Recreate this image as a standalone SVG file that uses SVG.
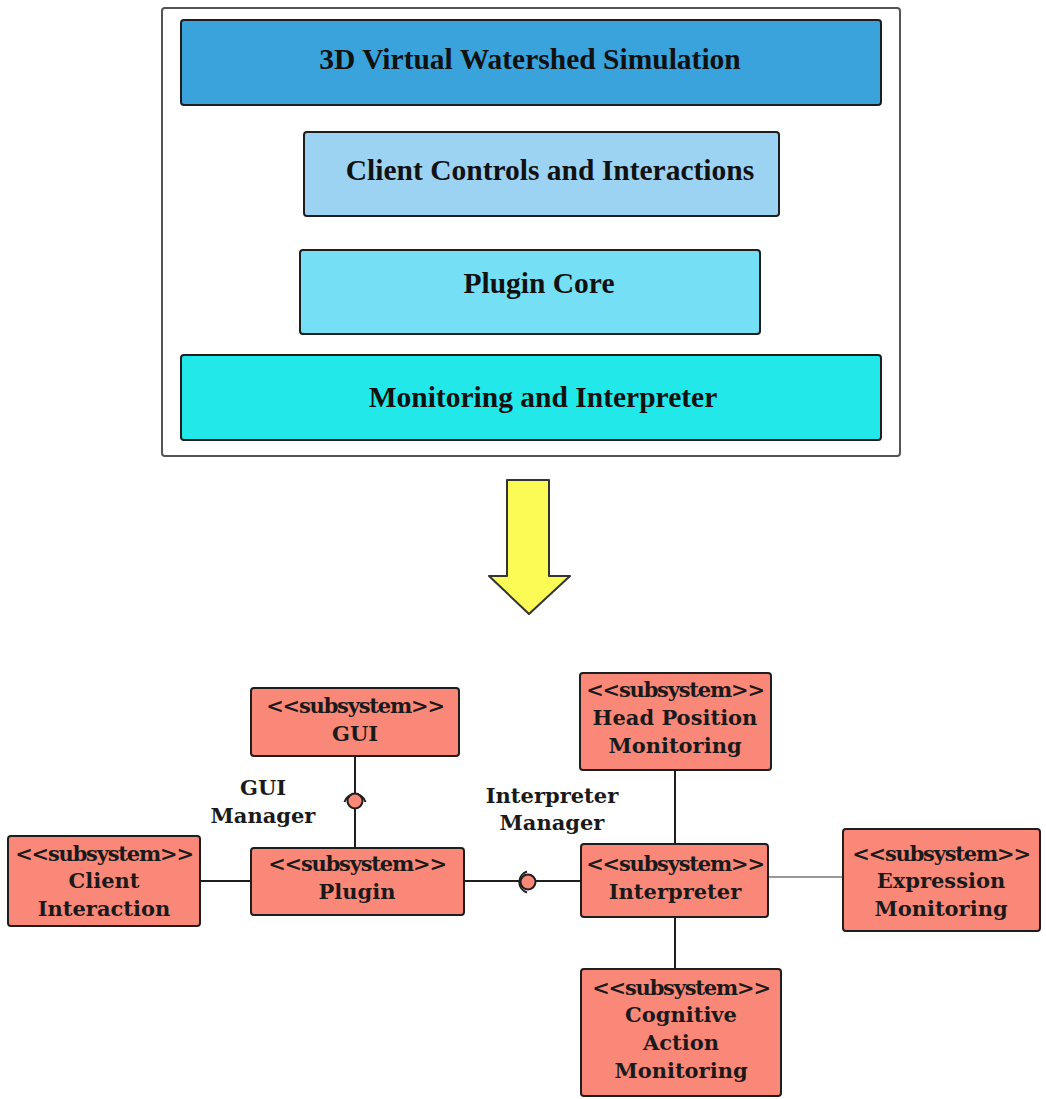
<svg xmlns="http://www.w3.org/2000/svg" width="1046" height="1099" viewBox="0 0 1046 1099">
  <style>
    .layer { stroke: #1e1e1e; stroke-width: 2; }
    .layer-text { font-family: "Liberation Serif", "Times New Roman", serif; font-weight: bold; font-size: 29.5px; fill: #111; text-anchor: middle; }
    .sub { fill: #fa8878; stroke: #1e1e1e; stroke-width: 2; }
    .sub-text { font-family: "DejaVu Serif", serif; font-weight: bold; font-size: 21px; fill: #1a1a1a; text-anchor: middle; }
    .stereo { letter-spacing: -1.2px; }
    .label { font-family: "DejaVu Serif", serif; font-weight: bold; font-size: 21px; fill: #1a1a1a; text-anchor: middle; }
    .wire { stroke: #1e1e1e; stroke-width: 2; fill: none; }
    .wire-thin { stroke: #777; stroke-width: 1.5; fill: none; }
    .ball { fill: #fa8878; stroke: #1e1e1e; stroke-width: 2; }
    .socket { fill: none; stroke: #1e1e1e; stroke-width: 2; }
  </style>

  <!-- layered architecture -->
  <g id="architecture">
    <rect x="162" y="8" width="738" height="448" rx="3" fill="#fff" stroke="#555" stroke-width="2"/>
  </g>
  <g id="layer-simulation">
    <rect class="layer" x="181" y="20" width="700" height="85" rx="3" fill="#3aa3dc"/>
    <text class="layer-text" x="530" y="69">3D Virtual Watershed Simulation</text>
  </g>
  <g id="layer-client">
    <rect class="layer" x="304" y="132" width="475" height="84" rx="3" fill="#9dd3f2"/>
    <text class="layer-text" x="550" y="180">Client Controls and Interactions</text>
  </g>
  <g id="layer-plugin">
    <rect class="layer" x="300" y="250" width="460" height="84" rx="3" fill="#75e0f5"/>
    <text class="layer-text" x="539" y="293">Plugin Core</text>
  </g>
  <g id="layer-monitoring">
    <rect class="layer" x="181" y="355" width="700" height="85" rx="3" fill="#22e8ea"/>
    <text class="layer-text" x="543" y="407">Monitoring and Interpreter</text>
  </g>

  <!-- transition arrow -->
  <g id="transition">
    <polygon points="507,480 549,480 549,576 570,576 529,614 489,576 507,576" fill="#fbfb55" stroke="#333" stroke-width="2" stroke-linejoin="round"/>
  </g>

  <!-- connectors -->
  <g id="connectors">
    <line class="wire" x1="355" y1="756" x2="355" y2="848"/>
    <path class="socket" d="M344.5,802 A11,11 0 0 1 365.5,802"/>
    <circle class="ball" cx="355" cy="801" r="7.5"/>
    <line class="wire" x1="200" y1="881" x2="251" y2="881"/>
    <line class="wire" x1="464" y1="881" x2="581" y2="881"/>
    <path class="socket" d="M527,871.5 A11,11 0 0 0 527,892.5"/>
    <circle class="ball" cx="528" cy="882" r="7.5"/>
    <line class="wire" x1="675" y1="770" x2="675" y2="844"/>
    <line class="wire-thin" x1="768" y1="877" x2="843" y2="877"/>
    <line class="wire" x1="675" y1="917" x2="675" y2="969"/>
    <text class="label" x="263" y="795">GUI</text>
    <text class="label" x="263" y="823">Manager</text>
    <text class="label" x="552" y="803">Interpreter</text>
    <text class="label" x="552" y="830">Manager</text>
  </g>

  <!-- subsystems -->
  <g id="gui">
    <rect class="sub" x="251" y="688" width="208" height="68" rx="3"/>
    <text class="sub-text stereo" x="355" y="713">&lt;&lt;subsystem&gt;&gt;</text>
    <text class="sub-text" x="355" y="741">GUI</text>
  </g>
  <g id="plugin">
    <rect class="sub" x="251" y="848" width="213" height="67" rx="3"/>
    <text class="sub-text stereo" x="357" y="871">&lt;&lt;subsystem&gt;&gt;</text>
    <text class="sub-text" x="357" y="899">Plugin</text>
  </g>
  <g id="client-interaction">
    <rect class="sub" x="8" y="836" width="192" height="90" rx="3"/>
    <text class="sub-text stereo" x="104" y="861">&lt;&lt;subsystem&gt;&gt;</text>
    <text class="sub-text" x="104" y="888">Client</text>
    <text class="sub-text" x="104" y="916">Interaction</text>
  </g>
  <g id="head-position-monitoring">
    <rect class="sub" x="580" y="673" width="191" height="97" rx="3"/>
    <text class="sub-text stereo" x="675" y="697">&lt;&lt;subsystem&gt;&gt;</text>
    <text class="sub-text" x="675" y="725">Head Position</text>
    <text class="sub-text" x="675" y="753">Monitoring</text>
  </g>
  <g id="interpreter">
    <rect class="sub" x="581" y="844" width="187" height="73" rx="3"/>
    <text class="sub-text stereo" x="675" y="871">&lt;&lt;subsystem&gt;&gt;</text>
    <text class="sub-text" x="675" y="899">Interpreter</text>
  </g>
  <g id="expression-monitoring">
    <rect class="sub" x="843" y="829" width="197" height="102" rx="3"/>
    <text class="sub-text stereo" x="941" y="861">&lt;&lt;subsystem&gt;&gt;</text>
    <text class="sub-text" x="941" y="888">Expression</text>
    <text class="sub-text" x="941" y="916">Monitoring</text>
  </g>
  <g id="cognitive-action-monitoring">
    <rect class="sub" x="581" y="969" width="200" height="127" rx="3"/>
    <text class="sub-text stereo" x="681" y="995">&lt;&lt;subsystem&gt;&gt;</text>
    <text class="sub-text" x="681" y="1022">Cognitive</text>
    <text class="sub-text" x="681" y="1050">Action</text>
    <text class="sub-text" x="681" y="1078">Monitoring</text>
  </g>
</svg>
